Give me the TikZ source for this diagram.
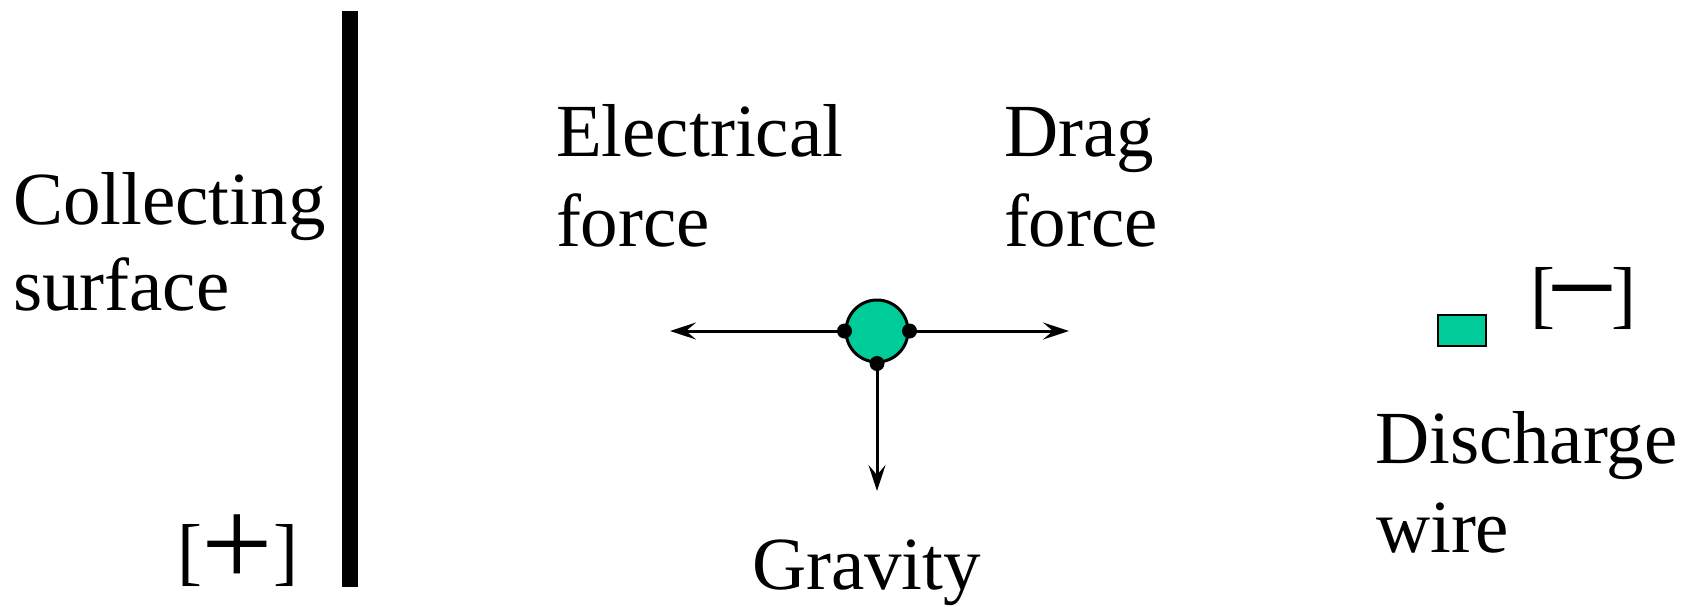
\documentclass[tikz,border=0pt]{standalone}
\usepackage{fontspec}
\setmainfont{Liberation Serif}
\usetikzlibrary{arrows.meta}
\definecolor{partgreen}{RGB}{0,204,153}
\begin{document}
\begin{tikzpicture}[x=1pt,y=-1pt,
  lbl/.style={anchor=base west, inner sep=0pt, outer sep=0pt, font=\fontsize{75}{75}\selectfont},
  forcearrow/.style={line width=3pt, -{Stealth[length=26pt,width=17pt,inset=10pt]}},
  pdot/.style={circle, fill=black, inner sep=0pt, minimum size=15pt},
]
\useasboundingbox (0,0) rectangle (1690,606);
% collecting plate
\node[fill=black, inner sep=0pt, minimum width=16pt, minimum height=576pt] (plate) at (350,299) {};
% labels left
\node[lbl] (coll1) at (13,224) {Collecting};
\node[lbl] (coll2) at (13,310) {surface};
\node[lbl] (plus) at (177,576) {[\raisebox{-10pt}[80pt][0pt]{\fontsize{127}{127}\selectfont +}]};
% particle
\node[circle, draw=black, line width=3pt, fill=partgreen, minimum size=62pt, inner sep=0pt] (particle) at (877,331) {};
\coordinate (eltip) at (670,331);
\coordinate (dragtip) at (1069,331);
\coordinate (gravtip) at (877,491);
\draw[forcearrow] (particle.west) -- (eltip);
\draw[forcearrow] (particle.east) -- (dragtip);
\draw[forcearrow] (particle.south) -- (gravtip);
\node[pdot] (dotw) at (particle.west) {};
\node[pdot] (dote) at (particle.east) {};
\node[pdot] (dots) at (particle.south) {};
% force labels
\node[lbl] (el1) at (556,156) {Electrical};
\node[lbl] (el2) at (556,246) {force};
\node[lbl] (dr1) at (1004,156) {Drag};
\node[lbl] (dr2) at (1004,246) {force};
\node[lbl] (grav) at (752,589) {Gravity};
% discharge wire
\node[draw=black, line width=2.5pt, fill=partgreen, inner sep=0pt, minimum width=48pt, minimum height=31pt] (wire) at (1462,330.5) {};
\node[lbl] (minus) at (1530,319.5) {[\kern-8pt\raisebox{-10.5pt}[50pt][0pt]{\fontsize{127}{127}\selectfont −}\kern-7pt]};
\node[lbl] (dis1) at (1375,463) {Discharge};
\node[lbl] (dis2) at (1376,552) {wire};
\end{tikzpicture}
\end{document}
